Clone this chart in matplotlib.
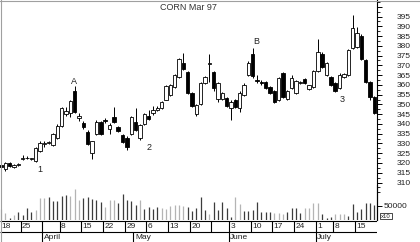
import numpy as np
import pandas as pd
import matplotlib
matplotlib.use('Agg')
import matplotlib.pyplot as plt
from matplotlib.lines import Line2D
from matplotlib.ticker import FixedLocator

# ---------------- data ----------------
title = 'CORN Mar 97'
opens = [319, 317, 320, 318, 319, 322, 322.8, 322, 321, 326,
         329.5, 330, 329, 333, 339, 345, 345.5, 357, 343, 340.5,
         336, 325, 335, 341, 342, 337.5, 343.5, 338.5, 334.5, 333,
         335, 341, 333, 340, 344, 345.5, 347, 348, 352.5, 355,
         359, 364, 371, 366.5, 356, 345, 350, 361, 370.5, 366.5,
         353, 353, 353.5, 348, 352.5, 348, 355, 365, 376, 362.5,
         361.5, 361.5, 359, 357, 352, 366, 353, 358.5, 356, 361,
         363, 358, 359, 367, 376, 365, 364, 361, 358.5, 364,
         365, 379, 379.5, 385, 372.7, 361.5, 354]
highs = [319.5, 320.5, 320.5, 319.5, 319.8, 324, 323.5, 322.8, 328, 331,
         331.5, 331.5, 335.5, 340, 348.7, 348.5, 352, 359.5, 345.5, 341.5,
         337, 331.5, 342, 341.5, 343, 340.5, 348.7, 339, 335, 334,
         344, 348, 340, 345.5, 347, 349, 349, 351.5, 360, 360.5,
         365.5, 373.5, 376.3, 367, 356.5, 350, 361.5, 364.5, 376, 367,
         361.5, 356.5, 354, 352, 353, 357, 361, 372, 379, 365,
         362.5, 362, 359.5, 357.5, 364, 366.5, 357.5, 365, 362.5, 362,
         363.5, 360, 367.5, 383.5, 377, 371.5, 364.5, 361.5, 366, 366,
         378.5, 396, 389.5, 386, 373, 362, 354.5]
lows = [317.5, 316, 318, 317.5, 318.7, 321.5, 321.8, 321.5, 320.5, 325.5,
        328, 329.5, 328.5, 332.5, 338.5, 344, 343.5, 345.5, 341.5, 337.5,
        329, 322, 334.5, 334.5, 340.5, 335, 340.5, 336, 330, 326.5,
        334.5, 336.5, 332, 339.5, 342, 344.5, 346.5, 347.5, 352, 354.5,
        358.5, 363.5, 367.5, 355.5, 348.5, 344, 349.5, 360.5, 361.5, 357,
        351, 352.5, 348.5, 342, 348, 346, 354.5, 364.5, 363.5, 361,
        360, 358, 355.5, 350.5, 351.5, 353.5, 352.5, 358, 355.5, 360.5,
        360.5, 357.5, 358.5, 366.5, 368.5, 364.5, 359.5, 356.5, 358, 363.5,
        364.5, 378.5, 379, 372.5, 361, 352.5, 345]
closes = [318, 320, 318.5, 319, 319.3, 322.8, 322.3, 322.4, 327.5, 330,
          330, 330.5, 335, 339, 348, 346.5, 351.5, 346, 344, 338.5,
          329.5, 331, 341, 335, 341.5, 339.5, 341, 336.5, 330.5, 328,
          343.5, 337, 339.5, 345, 342.5, 347, 348, 351, 359.5, 360,
          365, 373, 368, 356, 349, 349.5, 361, 364, 371, 358.5,
          361, 356, 349, 351, 348.5, 356, 360, 371, 364.5, 362,
          361, 358.5, 356, 351, 363.5, 354, 357, 363.5, 362, 361.5,
          361, 360, 367, 377, 369, 371, 360, 357, 365, 365.5,
          378, 389, 386.5, 373, 361.5, 354, 345.6]
volumes = [39000, 25000, 7000, 18000, 28500, 18000, 43000, 28500, 36000, 78500,
           78500, 82000, 68000, 68000, 85500, 89000, 85500, 110500, 71500, 78500,
           82000, 75000, 71500, 64000, 46500, 71500, 71500, 60500, 93000, 71500,
           68000, 53500, 71500, 39000, 46500, 39000, 46500, 43000, 39000, 50000,
           53500, 53500, 50000, 46500, 32000, 43000, 82000, 35500, 21500, 64000,
           35500, 64000, 43000, 10500, 82000, 57000, 32000, 32000, 35500, 64000,
           28500, 28500, 28500, 25000, 25000, 21500, 28500, 43000, 43000, 25000,
           43000, 43000, 60500, 60500, 21500, 7000, 10500, 21500, 21500, 21500,
           14000, 57000, 28500, 39000, 60500, 60500, 53500]
vol_light = [1, 1, 0, 1, 0, 0, 0, 0, 1, 1,
             1, 0, 0, 0, 0, 0, 1, 1, 1, 0,
             0, 0, 0, 0, 1, 1, 1, 0, 0, 0,
             0, 0, 1, 0, 0, 0, 0, 1, 1, 1,
             1, 1, 1, 0, 0, 0, 0, 0, 1, 0,
             0, 0, 0, 0, 1, 1, 0, 0, 0, 0,
             0, 0, 0, 1, 1, 1, 0, 0, 0, 0,
             1, 1, 1, 1, 0, 0, 0, 1, 1, 1,
             0, 0, 0, 0, 0, 0, 0]
holidays = ['1996-04-05', '1996-05-27', '1996-07-04']
week_labels = ['18', '25', '', '8', '15', '22', '29', '6', '13', '20', '',
               '3', '10', '17', '24', '1', '8', '15']
month_labels = ['April', 'May', 'June', 'July']
price_ticks = [310, 315, 320, 325, 330, 335, 340, 345, 350, 355, 360, 365,
               370, 375, 380, 385, 390, 395, 400]
price_labels = ['310', '315', '320', '325', '330', '335', '340', '345', '350',
                '355', '360', '365', '370', '375', '380', '385', '390', '395', '']
vol_ticks = [50000]
vol_tick_labels = ['50000']
wave_labels = ['1', 'A', '2', 'B', '3']

# ---------------- layout ----------------
plt.rcParams['font.family'] = ['Liberation Sans', 'DejaVu Sans']
W, H = 420, 242
fig = plt.figure(figsize=(W / 100, H / 100), dpi=100)
XR = 377
PX0, PXD = 1.0, 4.34          # pixel of day 0 and pixel per day
XLIM = (-PX0 / PXD, (XR - PX0) / PXD)
PY395, PYPU = 16.5, 1.953      # pixel of 395 and pixels per cent


def rect(top, bot):
    return [0, 1 - bot / H, XR / W, (bot - top) / H]


def px2x(px):
    return (px - PX0) / PXD


def py2p(py):
    return 395 - (py - PY395) / PYPU


dates = pd.bdate_range('1996-03-18', '1996-07-19').drop(pd.to_datetime(holidays))
n = len(dates)
x = np.arange(n)
o, h, l, c = map(np.array, (opens, highs, lows, closes))

# price axes
ax = fig.add_axes(rect(0, 220))
ax.patch.set_alpha(0)
ax.set_xlim(*XLIM)
ax.set_ylim(py2p(220), py2p(0))
for s in ('top', 'left', 'bottom'):
    ax.spines[s].set_visible(False)
ax.spines['right'].set_linewidth(0.8)
ax.set_xticks([])
ax.yaxis.tick_right()
ax.set_yticks(price_ticks)
ax.set_yticklabels(price_labels)
ax.yaxis.set_minor_locator(FixedLocator(np.arange(305, 403, 2.5)))
ax.tick_params(axis='y', which='major', length=3.5, width=0.7, pad=11,
               labelsize=6, labelcolor='#222222')
ax.tick_params(axis='y', which='minor', length=1.8, width=0.6)

# candles
ax.vlines(x, l, h, color='black', lw=0.7, zorder=2)
up = c >= o
bot = np.minimum(o, c)
ht = np.maximum(np.abs(c - o), 0.5)
ax.bar(x[up], ht[up], bottom=bot[up], width=0.78, facecolor='white',
       edgecolor='black', linewidth=0.6, zorder=3)
ax.bar(x[~up], ht[~up], bottom=bot[~up], width=0.78, facecolor='black',
       edgecolor='black', linewidth=0.6, zorder=3)

# wave labels
wave_px = [(40, 170), (74, 81), (149, 148), (256, 41), (342, 99)]
for lab, (px, py) in zip(wave_labels, wave_px):
    ax.text(px2x(px), py2p(py), lab, ha='center', va='center', fontsize=6.5,
            color='#222222')

# volume axes
axv = fig.add_axes(rect(185, 220))
axv.patch.set_alpha(0)
axv.set_xlim(*XLIM)
axv.set_ylim(0, 35 / 14 * 50000)
for s in ('top', 'left', 'bottom'):
    axv.spines[s].set_visible(False)
axv.spines['right'].set_linewidth(0.8)
axv.set_xticks([])
axv.yaxis.tick_right()
axv.set_yticks(vol_ticks)
axv.set_yticklabels(vol_tick_labels)
axv.tick_params(axis='y', length=3.5, width=0.7, pad=1, labelsize=6,
                labelcolor='#222222')
vcol = ['#b4b4b4' if f else '#3c3c3c' for f in vol_light]
axv.vlines(x, 0, volumes, colors=vcol, lw=0.9)
fig.text(386 / W, 1 - 216 / H, 'x10', ha='center', va='center', fontsize=4.3,
         color='#222222',
         bbox=dict(boxstyle='square,pad=0.15', fc='white', ec='black', lw=0.5))

# date axes
dax = fig.add_axes(rect(220, 242))
dax.set_xlim(*XLIM)
dax.set_ylim(242, 220)
dax.axis('off')
dax.hlines([220.5, 232], XLIM[0], XLIM[1], color='black', lw=0.8)
wk = pd.Index(dates.isocalendar().week)
week_starts = [0] + [i for i in range(1, n) if wk[i] != wk[i - 1]]
month_starts = [i for i in range(1, n) if dates[i].month != dates[i - 1].month]
dax.vlines([i - 0.5 for i in week_starts[1:]], 220.5, 232, color='black', lw=0.8)
dax.vlines([i - 0.5 for i in month_starts], 232, 242, color='black', lw=0.8)
for i, lab in zip(week_starts, week_labels):
    xs = XLIM[0] + 0.2 if i == 0 else i - 0.5 + 0.35
    dax.text(xs, 226.6, lab, ha='left', va='center', fontsize=6,
             family=['Liberation Sans Narrow', 'Liberation Sans'], color='#222222')
for i, lab in zip(month_starts, month_labels):
    dax.text(i - 0.5 + 0.35, 237.6, lab, ha='left', va='center', fontsize=6,
             color='#222222')

# title and frame
fig.text(188 / W, 1 - 7.5 / H, title, ha='center', va='center', fontsize=6.5,
         color='#333333')
fig.add_artist(Line2D([0.5 / W, 0.5 / W], [0, 1], color='#a0a0a0', lw=0.8))
fig.add_artist(Line2D([0, 1], [1 - 0.5 / H, 1 - 0.5 / H], color='#a0a0a0', lw=0.8))

fig.savefig('out.png', dpi=100)
